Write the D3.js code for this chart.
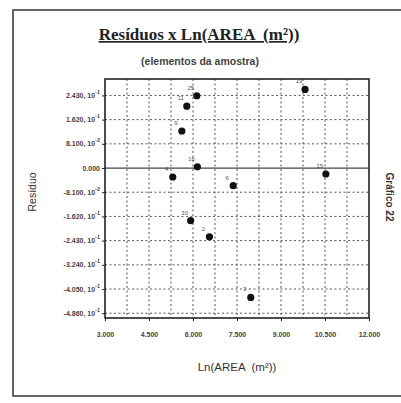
<!DOCTYPE html>
<html>
<head>
<meta charset="utf-8">
<script src="https://cdn.jsdelivr.net/npm/d3@7"></script>
<style>
  html, body { margin: 0; padding: 0; background: #fff; }
  svg { display: block; }
  text { white-space: pre; }
</style>
</head>
<body>
<svg id="chart" width="401" height="403"></svg>
<script>
// Residuals of the sample elements against ln(area)
const sampleIds   = ["19", "25", "11", "9", "16", "4", "6", "15", "30", "2", "3"];
const lnArea      = [9.82, 6.13, 5.79, 5.62, 6.15, 5.31, 7.37, 10.53, 5.92, 6.56, 7.97];
const residuals   = [0.263, 0.242, 0.207, 0.124, 0.004, -0.030, -0.059, -0.020, -0.176, -0.230, -0.433];

const xTicks      = [3, 4.5, 6, 7.5, 9, 10.5, 12];
const xGrid       = [3.75, 4.5, 5.25, 6, 6.75, 7.5, 8.25, 9, 9.75, 10.5, 11.25];
const yTicks      = [0.243, 0.162, 0.081, 0, -0.081, -0.162, -0.243, -0.324, -0.405, -0.486];

const titleText   = "Resíduos x Ln(AREA  (m²))";
const subtitle    = "(elementos da amostra)";
const xTitle      = "Ln(AREA  (m²))";
const yTitle      = "Resíduo";
const sideNote    = "Gráfico 22";

const svg = d3.select("#chart");
const m = { left: 105, right: 369, top: 79, bottom: 318 };

const x = d3.scaleLinear().domain([3, 12]).range([m.left, m.right]);
const y = d3.scaleLinear().domain([-0.502, 0.298]).range([m.bottom, m.top]);

// page frame (right edge runs past the page)
svg.append("rect")
  .attr("x", 13).attr("y", 10).attr("width", 400).attr("height", 386)
  .attr("fill", "none").attr("stroke", "#333").attr("stroke-width", 1.5);

// titles
svg.append("text")
  .attr("x", 199).attr("y", 40)
  .attr("text-anchor", "middle")
  .attr("font-family", "Liberation Serif, serif")
  .attr("font-weight", "bold").attr("font-size", 17)
  .attr("text-decoration", "underline")
  .attr("fill", "#222")
  .text(titleText);

svg.append("text")
  .attr("x", 200).attr("y", 65)
  .attr("text-anchor", "middle")
  .attr("font-family", "Liberation Sans, Arial, sans-serif")
  .attr("font-weight", "bold").attr("font-size", 10.5)
  .attr("fill", "#444")
  .text(subtitle);

// grid
const grid = svg.append("g").attr("stroke", "#555").attr("stroke-width", 1)
  .attr("stroke-dasharray", "2,2.5");
grid.selectAll("line.v").data(xGrid).join("line")
  .attr("x1", d => x(d)).attr("x2", d => x(d))
  .attr("y1", m.top).attr("y2", m.bottom);
grid.selectAll("line.h").data(yTicks.filter(d => d !== 0)).join("line")
  .attr("x1", m.left).attr("x2", m.right)
  .attr("y1", d => y(d)).attr("y2", d => y(d));

// zero reference line
svg.append("line")
  .attr("x1", m.left).attr("x2", m.right)
  .attr("y1", y(0)).attr("y2", y(0))
  .attr("stroke", "#444").attr("stroke-width", 1.2);

// plot border
svg.append("rect")
  .attr("x", m.left).attr("y", m.top)
  .attr("width", m.right - m.left).attr("height", m.bottom - m.top)
  .attr("fill", "none").attr("stroke", "#222").attr("stroke-width", 1.6);

// x axis
const xAxis = d3.axisBottom(x).tickValues(xTicks).tickSize(3)
  .tickFormat(d3.format(".3f"));
const gx = svg.append("g").attr("transform", `translate(0,${m.bottom})`).call(xAxis);
gx.select(".domain").remove();
gx.selectAll("line").attr("stroke", "#222");
gx.selectAll("text")
  .attr("y", 14)
  .attr("font-family", "Liberation Sans, Arial, sans-serif")
  .attr("font-size", 7).attr("font-weight", "bold").attr("fill", "#444");

// y axis with "m, 10^e" labels
const yAxis = d3.axisLeft(y).tickValues(yTicks).tickSize(3).tickFormat("");
const gy = svg.append("g").attr("transform", `translate(${m.left},0)`).call(yAxis);
gy.select(".domain").remove();
gy.selectAll("line").attr("stroke", "#222");

const yLab = svg.append("g")
  .attr("font-family", "Liberation Sans, Arial, sans-serif")
  .attr("font-size", 7).attr("font-weight", "bold").attr("fill", "#444");
yTicks.forEach(v => {
  const t = yLab.append("text")
    .attr("x", m.left - 5).attr("y", y(v) + 2.5)
    .attr("text-anchor", "end");
  if (v === 0) { t.text("0.000"); return; }
  const e = Math.floor(Math.log10(Math.abs(v)));
  const mant = v / Math.pow(10, e);
  t.append("tspan").text(mant.toFixed(3) + ", 10");
  t.append("tspan").attr("dy", -4).attr("font-size", 5.5).text(String(e));
});

// axis titles
svg.append("text")
  .attr("x", (m.left + m.right) / 2).attr("y", 371)
  .attr("text-anchor", "middle")
  .attr("font-family", "Liberation Sans, Arial, sans-serif")
  .attr("font-size", 11.5).attr("fill", "#333")
  .text(xTitle);

svg.append("text")
  .attr("transform", "translate(36,192) rotate(-90)")
  .attr("text-anchor", "middle")
  .attr("font-family", "Liberation Sans, Arial, sans-serif")
  .attr("font-size", 10.5).attr("fill", "#333")
  .text(yTitle);

svg.append("text")
  .attr("transform", "translate(386,197) rotate(90)")
  .attr("text-anchor", "middle")
  .attr("font-family", "Liberation Sans, Arial, sans-serif")
  .attr("font-size", 10).attr("font-weight", "bold").attr("fill", "#333")
  .text(sideNote);

// points and their ids
const pts = d3.range(sampleIds.length).map(i => ({ id: sampleIds[i], x: lnArea[i], y: residuals[i] }));
svg.append("g").selectAll("circle").data(pts).join("circle")
  .attr("cx", d => x(d.x)).attr("cy", d => y(d.y))
  .attr("r", 3.6).attr("fill", "#111");
svg.append("g").selectAll("text").data(pts).join("text")
  .attr("x", d => x(d.x) - 6).attr("y", d => y(d.y) - 6)
  .attr("text-anchor", "middle")
  .attr("font-family", "Liberation Sans, Arial, sans-serif")
  .attr("font-size", 6).attr("fill", "#555")
  .text(d => d.id);
</script>
</body>
</html>
